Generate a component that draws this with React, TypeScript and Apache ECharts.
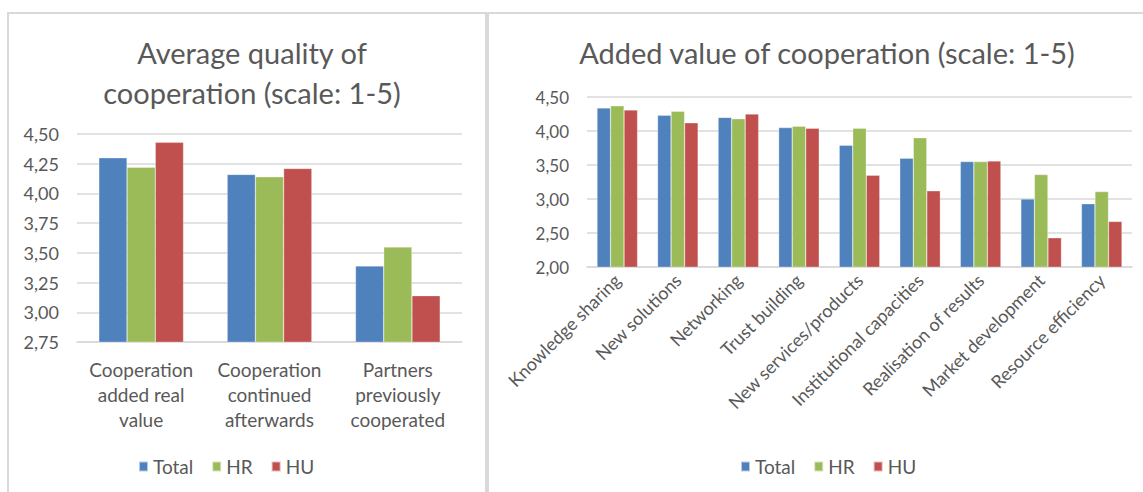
import React, { useEffect, useRef } from "react";
import * as echarts from "echarts";

const seriesNames = ["Total", "HR", "HU"];
const seriesColors = ["#4F81BD", "#9BBB59", "#C0504D"];

const leftTitle = "Average quality of\ncooperation (scale: 1-5)";
const leftCategories = [
  "Cooperation\nadded real\nvalue",
  "Cooperation\ncontinued\nafterwards",
  "Partners\npreviously\ncooperated",
];
const leftTotal = [4.3, 4.16, 3.39];
const leftHR = [4.22, 4.14, 3.55];
const leftHU = [4.43, 4.21, 3.14];

const rightTitle = "Added value of cooperation (scale: 1-5)";
const rightCategories = [
  "Knowledge sharing",
  "New solutions",
  "Networking",
  "Trust building",
  "New services/products",
  "Institutional capacities",
  "Realisation of results",
  "Market development",
  "Resource efficiency",
];
const rightTotal = [4.34, 4.23, 4.2, 4.05, 3.79, 3.6, 3.55, 3.0, 2.93];
const rightHR = [4.37, 4.29, 4.18, 4.07, 4.04, 3.9, 3.55, 3.36, 3.11];
const rightHU = [4.31, 4.12, 4.25, 4.04, 3.35, 3.12, 3.56, 2.43, 2.67];

const FONT = "Lato";
const TEXT = "#595959";
const GRID = "#D9D9D9";

const fmt = (v: number) => v.toFixed(2).replace(".", ",");

export default function App() {
  const ref = useRef<HTMLDivElement>(null);
  useEffect(() => {
    if (!ref.current) return;
    const chart = echarts.init(ref.current, undefined, { renderer: "svg" });
    const leftData = [leftTotal, leftHR, leftHU];
    const rightData = [rightTotal, rightHR, rightHU];
    const series: any[] = [];
    seriesNames.forEach((n, i) => {
      series.push({
        name: n,
        type: "bar",
        xAxisIndex: 0,
        yAxisIndex: 0,
        data: leftData[i],
        barGap: "0%",
        barCategoryGap: "34%",
        itemStyle: { color: seriesColors[i], borderColor: "rgba(255,255,255,0.6)", borderWidth: 0.5 },
      });
    });
    seriesNames.forEach((n, i) => {
      series.push({
        name: n,
        type: "bar",
        xAxisIndex: 1,
        yAxisIndex: 1,
        data: rightData[i],
        barGap: "0%",
        barCategoryGap: "33%",
        itemStyle: { color: seriesColors[i], borderColor: "rgba(255,255,255,0.6)", borderWidth: 0.5 },
      });
    });
    const legendCommon = {
      data: seriesNames,
      top: 452,
      icon: "rect",
      itemWidth: 9,
      itemHeight: 10,
      itemGap: 18,
      textStyle: { fontFamily: FONT, fontSize: 19, color: TEXT },
    };
    chart.setOption({
      animation: false,
      backgroundColor: "#ffffff",
      textStyle: { fontFamily: FONT },
      graphic: [
        {
          type: "rect",
          shape: { x: 8, y: 13, width: 478, height: 500 },
          style: { fill: "none", stroke: "#D9D9D9", lineWidth: 2 },
          silent: true,
        },
        {
          type: "rect",
          shape: { x: 488, y: 13, width: 700, height: 500 },
          style: { fill: "none", stroke: "#D9D9D9", lineWidth: 2 },
          silent: true,
        },
      ],
      title: [
        {
          text: leftTitle,
          left: 247,
          top: 27,
          textAlign: "center",
          textStyle: { fontFamily: FONT, fontSize: 29, fontWeight: "normal", color: TEXT, lineHeight: 40 },
        },
        {
          text: rightTitle,
          left: 822,
          top: 27,
          textAlign: "center",
          textStyle: { fontFamily: FONT, fontSize: 29, fontWeight: "normal", color: TEXT, lineHeight: 40 },
        },
      ],
      legend: [
        { ...legendCommon, left: 133 },
        { ...legendCommon, left: 735 },
      ],
      grid: [
        { left: 77, right: 1143 - 462, top: 134, bottom: 492 - 342, containLabel: false },
        { left: 587, right: 1143 - 1132, top: 97, bottom: 492 - 267, containLabel: false },
      ],
      xAxis: [
        {
          type: "category",
          gridIndex: 0,
          data: leftCategories,
          axisLine: { lineStyle: { color: GRID, width: 1.5 } },
          axisTick: { show: false },
          axisLabel: {
            color: TEXT,
            fontFamily: FONT,
            fontSize: 19,
            lineHeight: 25,
            margin: 15,
            interval: 0,
          },
        },
        {
          type: "category",
          gridIndex: 1,
          data: rightCategories,
          axisLine: { lineStyle: { color: GRID, width: 1.5 } },
          axisTick: { show: false },
          axisLabel: {
            color: TEXT,
            fontFamily: FONT,
            fontSize: 18,
            rotate: 45,
            margin: 10,
            interval: 0,
          },
        },
      ],
      yAxis: [
        {
          type: "value",
          gridIndex: 0,
          min: 2.75,
          max: 4.5,
          interval: 0.25,
          axisLine: { show: false },
          axisTick: { show: false },
          splitLine: { lineStyle: { color: GRID, width: 1.5 } },
          axisLabel: { color: TEXT, fontFamily: FONT, fontSize: 18, margin: 18, formatter: fmt },
        },
        {
          type: "value",
          gridIndex: 1,
          min: 2,
          max: 4.5,
          interval: 0.5,
          axisLine: { show: false },
          axisTick: { show: false },
          splitLine: { lineStyle: { color: GRID, width: 1.5 } },
          axisLabel: { color: TEXT, fontFamily: FONT, fontSize: 17, margin: 18, formatter: fmt },
        },
      ],
      series,
    });
    return () => chart.dispose();
  }, []);
  return (
    <div
      ref={ref}
      style={{ position: "absolute", left: 0, top: 0, width: 1143, height: 492 }}
    />
  );
}
